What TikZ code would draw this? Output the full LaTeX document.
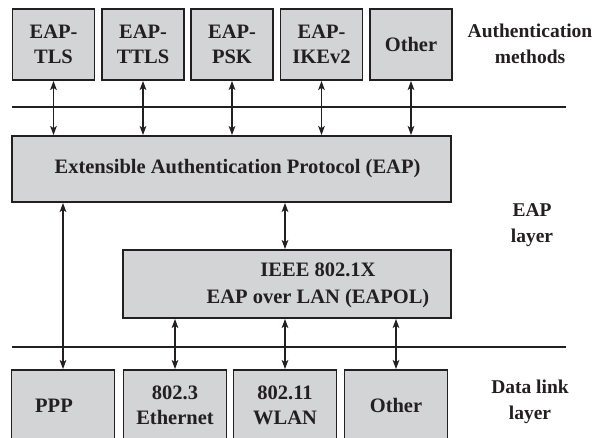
\documentclass[tikz,border=0pt]{standalone}
\usepackage{fontspec}
\setmainfont{Liberation Serif}
\usepackage{tikz}
\usetikzlibrary{arrows.meta}
\definecolor{BoxGray}{HTML}{D3D4D6}
\definecolor{InkBlack}{HTML}{231F20}

\tikzset{
  layerbox/.style={draw=InkBlack, fill=BoxGray, line width=1.8pt, align=center,
    text=InkBlack, font=\fontsize{20.5}{25}\selectfont\bfseries, inner sep=0pt},
  smallbox/.style={layerbox, minimum width=82pt, minimum height=71pt},
  linkbox/.style={layerbox, minimum width=103pt, minimum height=71pt},
  sidelabel/.style={align=center, text=InkBlack, font=\fontsize{19.5}{26}\selectfont\bfseries},
  busline/.style={InkBlack, line width=1.8pt},
  twoway/.style={InkBlack, line width=1.6pt,
    {Stealth[length=9pt,width=6.5pt,inset=2pt]}-{Stealth[length=9pt,width=6.5pt,inset=2pt]}}
}

\begin{document}
\begin{tikzpicture}[x=1pt, y=-1pt]
  \useasboundingbox (0,0) rectangle (597,438);

  % authentication methods
  \node[smallbox] (tls)   at (53.5,44.5) {EAP-\\TLS};
  \node[smallbox] (ttls)  at (143,44.5)  {EAP-\\TTLS};
  \node[smallbox] (psk)   at (232,44.5)  {EAP-\\PSK};
  \node[smallbox] (ikev)  at (321.5,44.5) {EAP-\\IKEv2};
  \node[smallbox] (other) at (411,44.5)  {Other};
  \node[sidelabel] (authlbl) at (530,44) {Authentication\\methods};

  \coordinate (topL) at (12,107);
  \coordinate (topR) at (566,107);
  \draw[busline] (topL) -- (topR);

  % EAP layer
  \node[layerbox, minimum width=439pt, minimum height=66pt] (eap) at (231.5,169)
    {\hspace*{12pt}Extensible Authentication Protocol (EAP)};
  \node[layerbox, minimum width=328pt, minimum height=68pt] (eapol) at (287,284) {};
  \node[sidelabel, font=\fontsize{20.5}{27}\selectfont\bfseries] (eapoltxt) at (318,285)
    {IEEE 802.1X\\EAP over LAN (EAPOL)};
  \node[sidelabel] (eaplbl) at (532,225) {EAP\\layer};

  \foreach \m in {tls,ttls,psk,ikev,other}
    \draw[twoway] (\m.south) -- (\m.south |- eap.north);

  \coordinate (botL) at (12,347);
  \coordinate (botR) at (566,347);
  \draw[busline] (botL) -- (botR);

  % data link layer
  \node[linkbox] (ppp)   at (63,405.5) {PPP\hspace*{18pt}};
  \node[linkbox] (eth)   at (175,405.5)  {802.3\\Ethernet};
  \node[linkbox] (wlan)  at (285,405.5)  {802.11\\WLAN};
  \node[linkbox] (other2) at (396,405.5) {Other};
  \node[sidelabel] (linklbl) at (530,402) {Data link\\layer};

  \draw[twoway] (wlan.north |- eap.south) -- (wlan.north |- eapol.north);
  \draw[twoway] (ppp.north |- eap.south) -- (ppp.north);
  \foreach \d in {eth,wlan,other2}
    \draw[twoway] (\d.north |- eapol.south) -- (\d.north);
\end{tikzpicture}
\end{document}
